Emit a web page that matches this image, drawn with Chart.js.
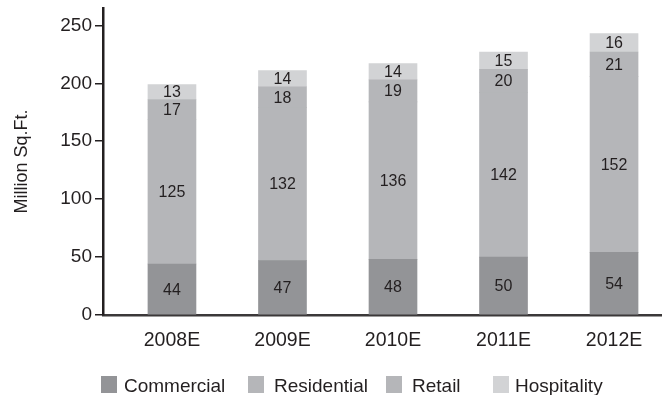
<!DOCTYPE html>
<html>
<head>
<meta charset="utf-8">
<script src="https://cdn.jsdelivr.net/npm/chart.js@4/dist/chart.umd.min.js"></script>
<style>
  html, body { margin: 0; padding: 0; background: #ffffff; overflow: hidden; }
  #wrap { position: relative; width: 662px; height: 395px; }
  #legend { position: absolute; left: 0; top: 0; width: 662px; height: 395px; pointer-events: none;
            font-family: 'Liberation Sans Narrow', 'Arial Narrow', 'Liberation Sans', Arial, sans-serif;
            font-size: 19px; line-height: 19px; color: #231f20; }
  .lg-box { position: absolute; width: 16px; height: 17px; }
  .lg-text { position: absolute; white-space: nowrap; }
</style>
</head>
<body>
<div id="wrap">
  <canvas id="chart" width="662" height="395"></canvas>
  <div id="legend"></div>
</div>
<script>
// Floor space by year (million sq. ft.)
const categories = ['2008E', '2009E', '2010E', '2011E', '2012E'];
const commercial  = [44, 47, 48, 50, 54];
const residential = [125, 132, 136, 142, 152];
const retail      = [17, 18, 19, 20, 21];
const hospitality = [13, 14, 14, 15, 16];
const yTicks = [0, 50, 100, 150, 200, 250];

const FONT = "'Liberation Sans Narrow', 'Arial Narrow', 'Liberation Sans', Arial, sans-serif";
const INK = '#231f20';

const seriesDefs = [
  { label: 'Commercial',  values: commercial,  color: '#939497' },
  { label: 'Residential', values: residential, color: '#b5b6b9' },
  { label: 'Retail',      values: retail,      color: '#b5b6b9' },
  { label: 'Hospitality', values: hospitality, color: '#d2d3d5' }
];

const datasets = seriesDefs.map(s => ({
  label: s.label,
  data: s.values.map((v, i) => ({ x: i, y: v })),
  backgroundColor: s.color,
  borderWidth: 0,
  barThickness: 48
}));

// Writes each segment's value at the middle of its bar piece
const segmentLabels = {
  id: 'segmentLabels',
  afterDatasetsDraw(chart) {
    const ctx = chart.ctx;
    ctx.save();
    ctx.font = '16px ' + FONT;
    ctx.fillStyle = INK;
    ctx.textAlign = 'center';
    ctx.textBaseline = 'middle';
    chart.data.datasets.forEach((ds, di) => {
      const meta = chart.getDatasetMeta(di);
      meta.data.forEach((bar, i) => {
        const c = bar.getCenterPoint();
        ctx.fillText(String(ds.data[i].y), c.x, c.y + 1);
      });
    });
    ctx.restore();
  }
};

new Chart(document.getElementById('chart'), {
  type: 'bar',
  data: { datasets },
  options: {
    responsive: false,
    animation: false,
    layout: { padding: { top: 8, left: 0, right: 0, bottom: 0 } },
    plugins: { legend: { display: false }, tooltip: { enabled: false } },
    scales: {
      x: {
        type: 'linear',
        stacked: true,
        offset: false,
        min: -0.624,
        max: 4.434,
        afterBuildTicks(scale) { scale.ticks = categories.map((_, i) => ({ value: i })); },
        afterFit(scale) { scale.height = 80; scale.paddingLeft = 0; scale.paddingRight = 0; },
        ticks: {
          autoSkip: false, maxRotation: 0, padding: 14,
          color: INK, font: { family: FONT, size: 19.5 },
          callback: v => categories[v]
        },
        grid: { display: false, drawTicks: false, offset: false },
        border: { display: true, color: '#3b3839', width: 2.5 }
      },
      y: {
        stacked: true,
        min: 0,
        max: 265,
        afterBuildTicks(scale) { scale.ticks = yTicks.map(v => ({ value: v })); },
        afterFit(scale) { scale.width = 103; scale.paddingTop = 0; scale.paddingBottom = 0; },
        ticks: { padding: 3, color: INK, font: { family: FONT, size: 19 } },
        grid: { drawOnChartArea: false, tickLength: 8, color: INK, lineWidth: 1.5 },
        border: { display: true, color: INK, width: 2.5 },
        title: {
          display: true, text: 'Million Sq.Ft.', color: INK,
          font: { family: FONT, size: 18 }, padding: { top: 11, bottom: 0 }
        }
      }
    }
  },
  plugins: [segmentLabels]
});

// Legend row under the axis
const legendLeft = [101, 248, 386, 493];
const legendTextGap = [23, 26, 26, 22];
const legendEl = document.getElementById('legend');
seriesDefs.forEach((s, i) => {
  const box = document.createElement('div');
  box.className = 'lg-box';
  box.style.left = legendLeft[i] + 'px';
  box.style.top = '376px';
  box.style.background = s.color;
  const txt = document.createElement('div');
  txt.className = 'lg-text';
  txt.style.left = (legendLeft[i] + legendTextGap[i]) + 'px';
  txt.style.top = '376px';
  txt.textContent = s.label;
  legendEl.appendChild(box);
  legendEl.appendChild(txt);
});
</script>
</body>
</html>
